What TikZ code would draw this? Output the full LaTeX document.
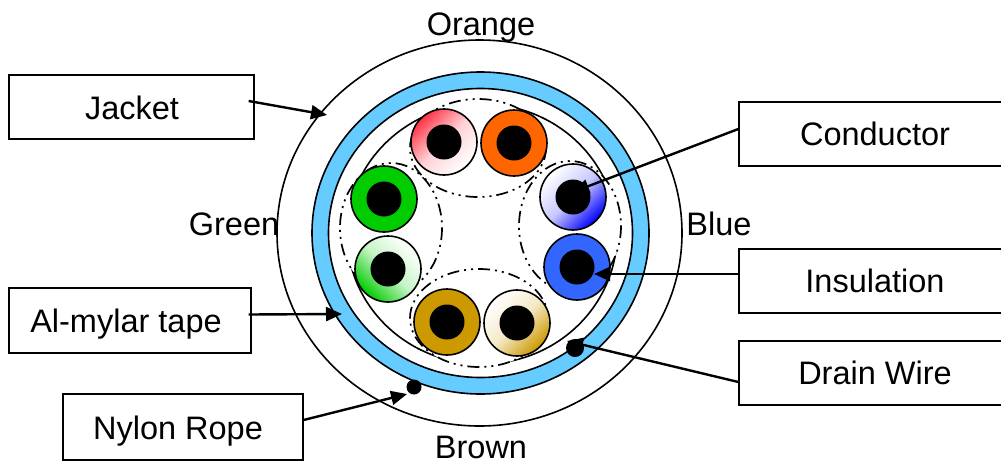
\documentclass[tikz,border=0pt]{standalone}
\usepackage{fontspec}
\setmainfont{Liberation Sans}
\usetikzlibrary{arrows.meta}
\definecolor{tapeblue}{HTML}{66CCFF}
\definecolor{wirered}{HTML}{FF3344}
\definecolor{wireorange}{HTML}{FF6600}
\definecolor{wiregreen}{HTML}{00CC00}
\definecolor{wiregold}{HTML}{CC9900}
\definecolor{wireblue}{HTML}{3366FF}
\definecolor{wirenavy}{HTML}{0000FF}
\tikzset{
	labelbox/.style={draw, line width=1.3pt, minimum height=64pt, inner sep=0pt},
	labeltext/.style={anchor=base, inner sep=0pt},
	wire/.style={circle, draw, line width=1.6pt, minimum size=66pt, inner sep=0pt},
	core/.style={circle, fill=black, minimum size=35pt, inner sep=0pt},
	dot/.style={circle, fill=black, inner sep=0pt},
	bundle/.style={draw, fill=white, line width=1.7pt, dash pattern=on 12pt off 5pt on 2pt off 5pt on 2pt off 5pt},
	ring/.style={draw, line width=1.6pt},
	pointer/.style={line width=2.4pt, -{Triangle[length=16pt,width=14pt]}}
}
\begin{document}
\begin{tikzpicture}[x=1pt, y=-1pt, font=\fontsize{32.5}{36}\selectfont]
	%%%%% START %%%%%
	\useasboundingbox (0, 0) rectangle (1001, 461);

	\draw[ring] (479.5, 233) ellipse (202.5 and 193);
	\draw[ring, fill=tapeblue] (480.5, 233) ellipse (168.5 and 161);
	\draw[ring, fill=white] (480.5, 233) ellipse (152 and 144.5);
	\draw[ring] (482, 234) ellipse (135 and 130);

	\draw[bundle] (391, 228) ellipse (51 and 65);
	\draw[bundle] (570, 226) ellipse (51 and 65);
	\draw[bundle] (478, 148) ellipse (68 and 49);
	\draw[bundle] (479, 318) ellipse (69 and 49);

	\node[wire, left color=wirered, right color=white, middle color=wirered!22!white, shading angle=45] (wireRed) at (444, 142) {};
	\node[wire, fill=wireorange] (wireOrange) at (514, 143) {};
	\node[wire, left color=white, right color=wirenavy, middle color=wirenavy!22!white, shading angle=45] (wireNavy) at (573, 197) {};
	\node[wire, fill=wireblue] (wireBlue) at (577, 267) {};
	\node[wire, left color=white, right color=wiregold, middle color=wiregold!22!white, shading angle=45] (wireTan) at (517, 323) {};
	\node[wire, fill=wiregold] (wireGold) at (447, 322) {};
	\node[wire, left color=wiregreen, right color=white, middle color=wiregreen!22!white, shading angle=135] (wirePale) at (388, 269) {};
	\node[wire, fill=wiregreen] (wireGreen) at (384, 199) {};

	\foreach \w in {Red, Orange, Navy, Blue, Tan, Gold, Pale, Green}
		\node[core] (core\w) at (wire\w) {};

	\node[labeltext] (labelOrange) at (481, 35.5) {Orange};
	\node[labeltext] (labelGreen) at (234, 235) {Green};
	\node[labeltext] (labelBlue) at (719, 235) {Blue};
	\node[labeltext] (labelBrown) at (481, 458.5) {Brown};

	\node[labelbox, minimum width=245pt] (boxJacket) at (131.5, 107) {};
	\node[labelbox, minimum width=242pt, minimum height=65pt] (boxTape) at (130, 320.5) {};
	\node[labelbox, minimum width=240pt, minimum height=66pt] (boxRope) at (183, 427) {};
	\node[labelbox, minimum width=272pt] (boxConductor) at (875, 134) {};
	\node[labelbox, minimum width=272pt] (boxInsulation) at (875, 281) {};
	\node[labelbox, minimum width=272pt] (boxDrain) at (875, 373) {};

	\node[labeltext] (textJacket) at (132, 119) {Jacket};
	\node[labeltext] (textTape) at (126, 332) {Al-mylar tape};
	\node[labeltext] (textRope) at (178, 439) {Nylon Rope};
	\node[labeltext] (textConductor) at (875, 145) {Conductor};
	\node[labeltext] (textInsulation) at (875, 292) {Insulation};
	\node[labeltext] (textDrain) at (875, 384) {Drain Wire};

	\coordinate (tipJacket) at (327, 115);
	\coordinate (tipTape) at (342, 314);
	\coordinate (tipRope) at (407, 394);
	\coordinate (tipConductor) at (573, 192);
	\coordinate (tipInsulation) at (594, 274);
	\coordinate (tipDrain) at (567, 341);

	\draw[pointer] ([shift={(-6pt,6pt)}]boxJacket.east) -- (tipJacket);
	\draw[pointer] ([shift={(-3pt,6pt)}]boxTape.east) -- (tipTape);
	\draw[pointer] ([yshift=7pt]boxRope.east) -- (tipRope);
	\draw[pointer] ([yshift=5pt]boxConductor.west) -- (tipConductor);
	\draw[pointer] ([yshift=7pt]boxInsulation.west) -- (tipInsulation);
	\draw[pointer] ([yshift=-9pt]boxDrain.west) -- (tipDrain);

	\node[dot, minimum size=18pt] (dotDrain) at (575, 348) {};
	\node[dot, minimum size=15pt] (dotRope) at (414, 387) {};
	%%%%% END %%%%%
\end{tikzpicture}
\end{document}
